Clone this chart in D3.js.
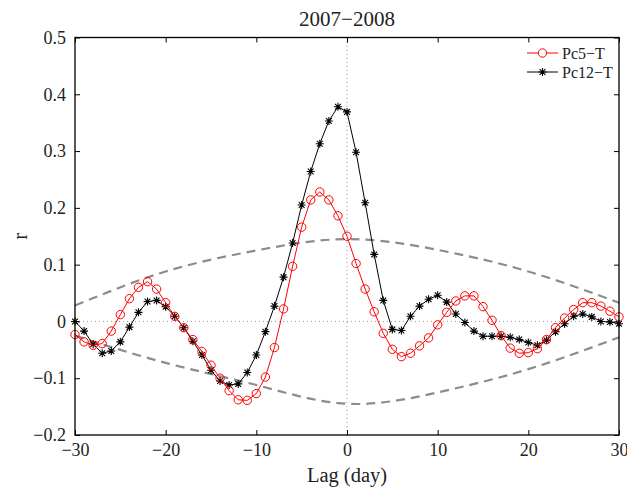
<!DOCTYPE html>
<html>
<head>
<meta charset="utf-8">
<script src="https://cdn.jsdelivr.net/npm/d3@7"></script>
<style>
  body { margin: 0; background: #fff; }
  svg text { font-family: "Liberation Serif", "Times New Roman", Times, serif !important; fill: #222; }
</style>
</head>
<body>
<script>
// lags -30..30
var lags = d3.range(-30, 31);

var pc5 = [-0.023, -0.036, -0.042, -0.039, -0.017, 0.012, 0.040, 0.060, 0.070, 0.057,
  0.033, 0.009, -0.011, -0.032, -0.053, -0.077, -0.100, -0.122, -0.138, -0.139,
  -0.127, -0.098, -0.046, 0.022, 0.097, 0.166, 0.214, 0.228, 0.214, 0.186,
  0.150, 0.102, 0.057, 0.017, -0.021, -0.049, -0.062, -0.056, -0.043, -0.029,
  -0.006, 0.016, 0.036, 0.045, 0.045, 0.026, 0.002, -0.025, -0.047, -0.056,
  -0.055, -0.048, -0.032, -0.011, 0.006, 0.021, 0.033, 0.033, 0.027, 0.018, 0.008];

var pc12 = [0.000, -0.017, -0.040, -0.056, -0.052, -0.036, -0.010, 0.016, 0.035, 0.037,
  0.026, 0.009, -0.011, -0.035, -0.059, -0.086, -0.105, -0.112, -0.110, -0.090,
  -0.059, -0.018, 0.027, 0.078, 0.138, 0.205, 0.264, 0.313, 0.353, 0.378,
  0.369, 0.298, 0.209, 0.118, 0.037, -0.014, -0.016, 0.009, 0.027, 0.039,
  0.046, 0.034, 0.013, -0.002, -0.017, -0.026, -0.026, -0.026, -0.028, -0.032,
  -0.037, -0.042, -0.033, -0.018, -0.004, 0.009, 0.013, 0.008, 0.000, -0.001, -0.004];

// significance bounds
var boundLags = [-30, -20, -10, 0, 10, 20, 30];
var upperBound = [0.028, 0.088, 0.125, 0.145, 0.126, 0.088, 0.033];
var lowerBound = [-0.025, -0.073, -0.112, -0.145, -0.125, -0.084, -0.028];

var xTicks = [-30, -20, -10, 0, 10, 20, 30];
var yTicks = [-0.2, -0.1, 0, 0.1, 0.2, 0.3, 0.4, 0.5];

var W = 627, H = 491;
var margin = {left: 75, right: 8, top: 37.5, bottom: 56};
var serif = "'Liberation Serif', 'Times New Roman', serif";

var svg = d3.select("body").append("svg").attr("width", W).attr("height", H);

var x = d3.scaleLinear().domain([-30, 30]).range([margin.left, W - margin.right]);
var y = d3.scaleLinear().domain([-0.2, 0.5]).range([H - margin.bottom, margin.top]);

var fmtY = function(d) { var s = d3.format(".1f")(d); if (s === "0.0" || s === "-0.0") s = "0"; return s.replace("-", "\u2212"); };
var fmtX = function(d) { return String(d).replace("-", "\u2212"); };

// zero reference lines
svg.append("line").attr("x1", x(-30)).attr("x2", x(30)).attr("y1", y(0)).attr("y2", y(0))
  .attr("stroke", "#999").attr("stroke-width", 1).attr("stroke-dasharray", "1,3");
svg.append("line").attr("x1", x(0)).attr("x2", x(0)).attr("y1", y(-0.2)).attr("y2", y(0.5))
  .attr("stroke", "#999").attr("stroke-width", 1).attr("stroke-dasharray", "1,3");

// bounds
var boundLine = d3.line().x(function(d, i) { return x(boundLags[i]); }).y(function(d) { return y(d); }).curve(d3.curveNatural);
[upperBound, lowerBound].forEach(function(b) {
  svg.append("path").attr("d", boundLine(b)).attr("fill", "none")
    .attr("stroke", "#8c8c8c").attr("stroke-width", 2.2).attr("stroke-dasharray", "9,6");
});

var line = d3.line().x(function(d, i) { return x(lags[i]); }).y(function(d) { return y(d); });

// Pc12 (black, asterisk)
svg.append("path").attr("d", line(pc12)).attr("fill", "none").attr("stroke", "#000").attr("stroke-width", 1);
function star(g, cx, cy, r) {
  var s = r * 0.72;
  var p = "M" + (cx - r) + "," + cy + "L" + (cx + r) + "," + cy +
    "M" + cx + "," + (cy - r) + "L" + cx + "," + (cy + r) +
    "M" + (cx - s) + "," + (cy - s) + "L" + (cx + s) + "," + (cy + s) +
    "M" + (cx - s) + "," + (cy + s) + "L" + (cx + s) + "," + (cy - s);
  g.append("path").attr("d", p).attr("stroke", "#000").attr("stroke-width", 1.1).attr("fill", "none");
}
pc12.forEach(function(v, i) { star(svg, x(lags[i]), y(v), 4); });

// Pc5 (red, circle)
svg.append("path").attr("d", line(pc5)).attr("fill", "none").attr("stroke", "#ff0000").attr("stroke-width", 1);
svg.selectAll("circle.pc5").data(pc5).enter().append("circle").attr("class", "pc5")
  .attr("cx", function(d, i) { return x(lags[i]); }).attr("cy", function(d) { return y(d); })
  .attr("r", 4.2).attr("fill", "none").attr("stroke", "#ff0000").attr("stroke-width", 1);

// frame and inward ticks
svg.append("rect").attr("x", x(-30)).attr("y", y(0.5)).attr("width", x(30) - x(-30)).attr("height", y(-0.2) - y(0.5))
  .attr("fill", "none").attr("stroke", "#000").attr("stroke-width", 1.3);

function styleLabels(g) {
  g.select(".domain").remove();
  g.attr("font-family", serif).attr("font-size", 18);
  g.selectAll("text").attr("fill", "#222");
}
svg.append("g").attr("transform", "translate(0," + y(-0.2) + ")")
  .call(d3.axisBottom(x).tickValues(xTicks).tickSize(-5).tickPadding(8).tickFormat(fmtX))
  .call(styleLabels);
svg.append("g").attr("transform", "translate(0," + y(0.5) + ")")
  .call(d3.axisTop(x).tickValues(xTicks).tickSize(-5).tickFormat(""))
  .call(function(g) { g.select(".domain").remove(); });
svg.append("g").attr("transform", "translate(" + x(-30) + ",0)")
  .call(d3.axisLeft(y).tickValues(yTicks).tickSize(-5).tickPadding(9).tickFormat(fmtY))
  .call(styleLabels);
svg.append("g").attr("transform", "translate(" + x(30) + ",0)")
  .call(d3.axisRight(y).tickValues(yTicks).tickSize(-5).tickFormat(""))
  .call(function(g) { g.select(".domain").remove(); });

// titles
svg.append("text").attr("x", x(0)).attr("y", 26).attr("text-anchor", "middle")
  .attr("font-family", serif).attr("font-size", 21).text("2007\u22122008");
svg.append("text").attr("x", x(0)).attr("y", 482).attr("text-anchor", "middle")
  .attr("font-family", serif).attr("font-size", 20.5).text("Lag (day)");
svg.append("text").attr("transform", "translate(27," + y(0.15) + ") rotate(-90)").attr("text-anchor", "middle")
  .attr("font-family", serif).attr("font-size", 21).text("r");

// legend
var lg = svg.append("g").attr("font-family", serif).attr("font-size", 16);
lg.append("line").attr("x1", 527).attr("x2", 558).attr("y1", 53).attr("y2", 53).attr("stroke", "#ff0000");
lg.append("circle").attr("cx", 542.5).attr("cy", 53).attr("r", 4.2).attr("fill", "#fff").attr("stroke", "#ff0000");
lg.append("text").attr("x", 562).attr("y", 58.5).text("Pc5\u2212T");
lg.append("line").attr("x1", 527).attr("x2", 558).attr("y1", 72).attr("y2", 72).attr("stroke", "#000");
star(lg, 542.5, 72, 4);
lg.append("text").attr("x", 562).attr("y", 77.5).text("Pc12\u2212T");
</script>
</body>
</html>
